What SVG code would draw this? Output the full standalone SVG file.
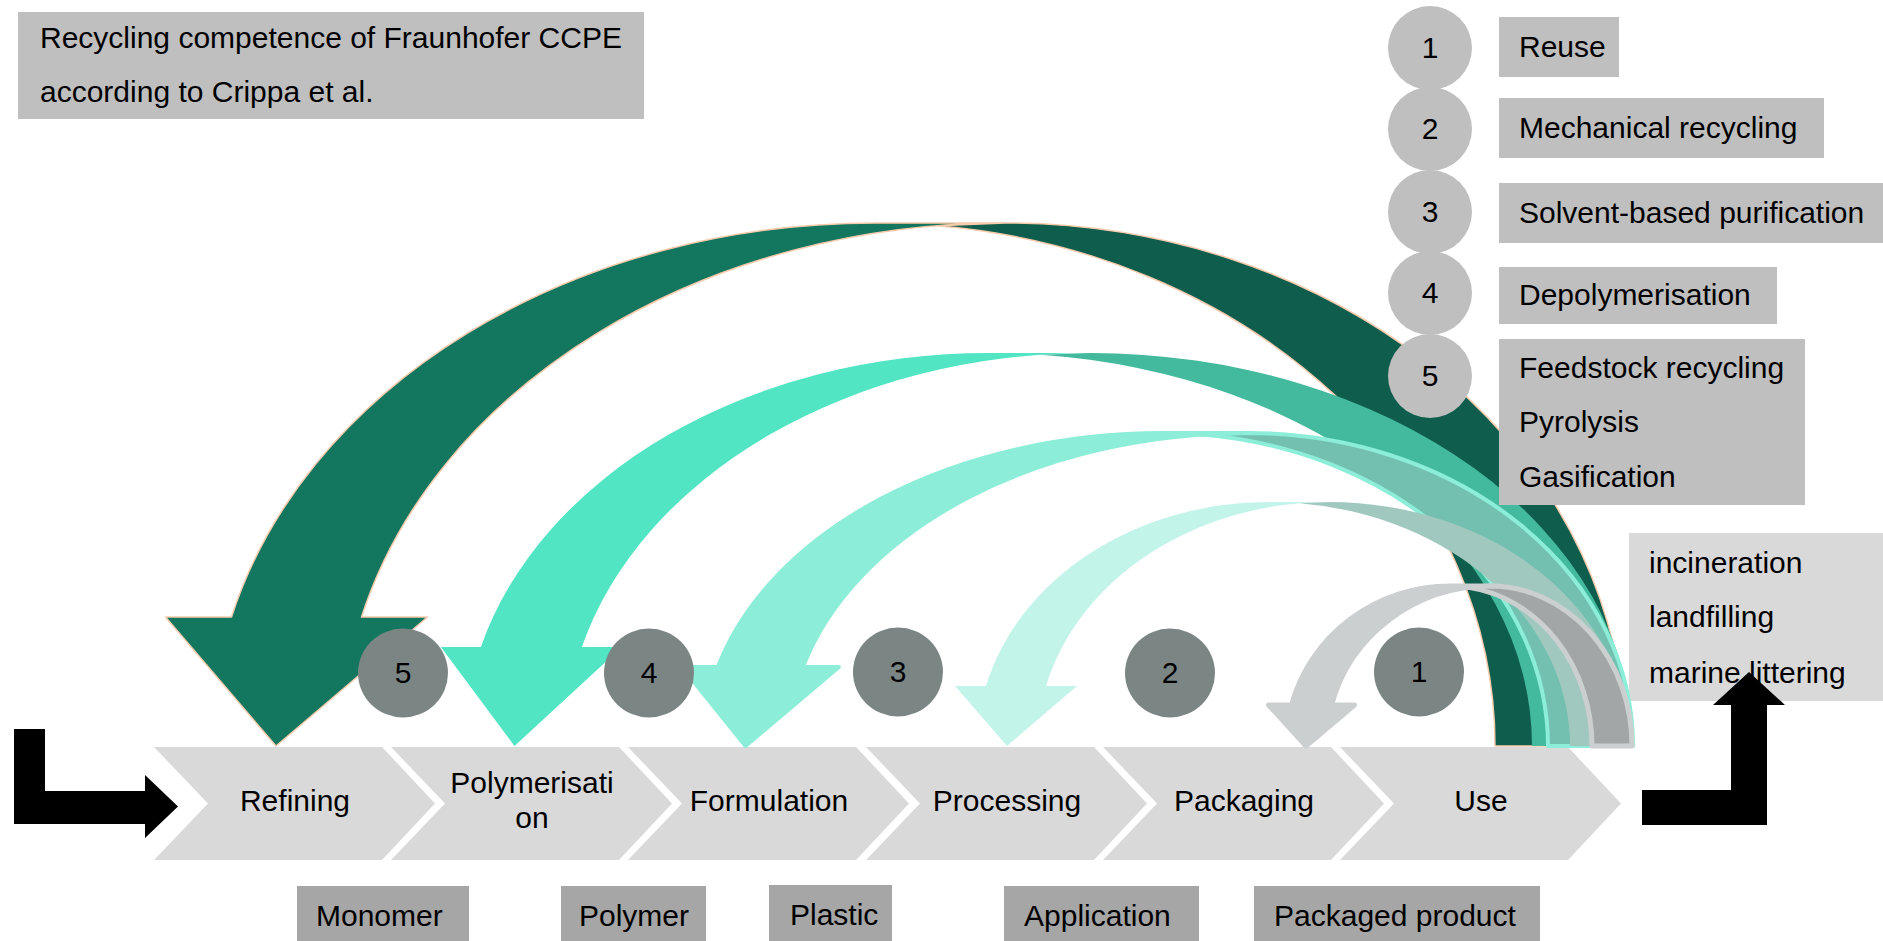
<svg xmlns="http://www.w3.org/2000/svg" width="1883" height="941" viewBox="0 0 1883 941">
<style>
text{font-family:"Liberation Sans",Arial,sans-serif;font-size:30px;fill:#000}
.c{text-anchor:middle}
.chev{fill:#d9d9d9}
.lg{fill:#bfbfbf}
.bot{fill:#a6a6a6}
.num{fill:#7b8684}
.blk{fill:#000}
</style>
<rect width="1883" height="941" fill="#fff"/>

<g id="title">
<rect class="lg" x="18" y="12" width="626" height="107"/>
<text x="40" y="48">Recycling competence of Fraunhofer CCPE</text>
<text x="40" y="102">according to Crippa et al.</text>
</g>

<g id="chevrons">
<g id="refining"><path class="chev" d="M154,747H382L435,803.5L382,860H154L208,803.5Z"/><text class="c" x="295" y="811">Refining</text></g>
<g id="polymerisation"><path class="chev" d="M391,747H619L672,803.5L619,860H391L445,803.5Z"/><text class="c" x="532" y="793">Polymerisati</text><text class="c" x="532" y="828">on</text></g>
<g id="formulation"><path class="chev" d="M628,747H856L909,803.5L856,860H628L682,803.5Z"/><text class="c" x="769" y="811">Formulation</text></g>
<g id="processing"><path class="chev" d="M866,747H1094L1147,803.5L1094,860H866L920,803.5Z"/><text class="c" x="1007" y="811">Processing</text></g>
<g id="packaging"><path class="chev" d="M1103,747H1331L1384,803.5L1331,860H1103L1157,803.5Z"/><text class="c" x="1244" y="811">Packaging</text></g>
<g id="use"><path class="chev" d="M1340,747H1568L1621,803.5L1568,860H1340L1394,803.5Z"/><text class="c" x="1481" y="811">Use</text></g>
</g>

<g id="bottom-labels">
<g id="monomer"><rect class="bot" x="297" y="886" width="172" height="55"/><text x="316" y="926">Monomer</text></g>
<g id="polymer"><rect class="bot" x="561" y="886" width="145" height="55"/><text x="579" y="926">Polymer</text></g>
<g id="plastic"><rect class="bot" x="769" y="885" width="123" height="56"/><text x="790" y="925">Plastic</text></g>
<g id="application"><rect class="bot" x="1004" y="886" width="195" height="55"/><text x="1024" y="926">Application</text></g>
<g id="packaged"><rect class="bot" x="1254" y="886" width="286" height="55"/><text x="1274" y="926">Packaged product</text></g>
</g>

<g id="endoflife">
<rect x="1629" y="533" width="254" height="168" fill="#d9d9d9"/>
<text x="1649" y="573">incineration</text>
<text x="1649" y="627">landfilling</text>
<text x="1649" y="683">marine littering</text>
</g>

<g id="connectors">
<g id="arrow5" stroke="#f8cbad" stroke-width="1.5" stroke-linejoin="round">
<path fill="#13765f" d="M276,746L165.5,617L231.5,617A664,523 0 0 1 875,223L1005,223A664,523 0 0 0 361.5,617L427.5,617Z"/>
<path fill="#0f5e4d" d="M937.8,225.7L1005,223A620,523 0 0 1 1625,746L1495,746A620,523 0 0 0 937.8,225.7Z"/>
</g>
<g id="arrow4">
<path fill="#52e5c4" d="M514.5,746L440.9,647L480.9,647A525,393 0 0 1 989,353L1090,353A525,393 0 0 0 581.9,647L621.9,647Z"/>
<path fill="#43b99d" d="M1040.35,354.76L1090,353A543,393 0 0 1 1633,746L1532,746A543,393 0 0 0 1040.35,354.76Z"/>
</g>
<g id="arrow3" stroke="#8cedd8" stroke-width="4" stroke-linejoin="round">
<path fill="#8cedd8" d="M745.5,746L681.9,667L717.9,667A460,313 0 0 1 1163,433L1248,433A460,313 0 0 0 802.9,667L838.9,667Z"/>
<path fill="#73c0b0" d="M1201.7,434.6L1248,433A385,313 0 0 1 1633,746L1548,746A385,313 0 0 0 1201.7,434.6Z"/>
</g>
<g id="arrow2">
<path fill="#c3f4ea" d="M1007,746L955,686L986,686A292,244 0 0 1 1269,502L1329,502A292,244 0 0 0 1046,686L1077,686Z"/>
<path fill="#a0c8bf" d="M1299.5,503.25L1329,502A301,244 0 0 1 1630,746L1570,746A301,244 0 0 0 1299.5,503.25Z"/>
</g>
<g id="arrow1" stroke="#cbcfd0" stroke-width="5" stroke-linejoin="round">
<path fill="#cbcfd0" d="M1306,746L1268.5,705L1291.5,705A164,160 0 0 1 1450,586L1490,586A164,160 0 0 0 1331.5,705L1354.5,705Z"/>
<path fill="#a3a6a6" d="M1468.6,587.4L1490,586A142,160 0 0 1 1632,746L1592,746A142,160 0 0 0 1468.6,587.4Z"/>
</g>
<path id="in-arrow" class="blk" d="M14,729H45V791H145V775L178,806.5L145,838V824H14Z"/>
<path id="out-arrow" class="blk" d="M1642,790H1731V705H1713L1749,672L1785,705H1767V825H1642Z"/>
</g>

<g id="steps">
<g id="step5"><ellipse class="num" cx="403" cy="673" rx="45" ry="44.5"/><text class="c" x="403" y="683">5</text></g>
<g id="step4"><ellipse class="num" cx="649" cy="673" rx="45" ry="44.5"/><text class="c" x="649" y="683">4</text></g>
<g id="step3"><ellipse class="num" cx="898" cy="672" rx="45" ry="44.5"/><text class="c" x="898" y="682">3</text></g>
<g id="step2"><ellipse class="num" cx="1170" cy="673" rx="45" ry="44.5"/><text class="c" x="1170" y="683">2</text></g>
<g id="step1"><ellipse class="num" cx="1419" cy="672" rx="45" ry="44.5"/><text class="c" x="1419" y="682">1</text></g>
</g>

<g id="legend">
<g id="leg1"><circle class="lg" cx="1430" cy="48" r="42"/><text class="c" x="1430" y="58">1</text><rect class="lg" x="1499" y="17" width="120" height="60"/><text x="1519" y="57">Reuse</text></g>
<g id="leg2"><circle class="lg" cx="1430" cy="129" r="42"/><text class="c" x="1430" y="139">2</text><rect class="lg" x="1499" y="98" width="325" height="60"/><text x="1519" y="138">Mechanical recycling</text></g>
<g id="leg3"><circle class="lg" cx="1430" cy="212" r="42"/><text class="c" x="1430" y="222">3</text><rect class="lg" x="1499" y="183" width="384" height="60"/><text x="1519" y="223">Solvent-based purification</text></g>
<g id="leg4"><circle class="lg" cx="1430" cy="293" r="42"/><text class="c" x="1430" y="303">4</text><rect class="lg" x="1499" y="267" width="278" height="57"/><text x="1519" y="305">Depolymerisation</text></g>
<g id="leg5"><circle class="lg" cx="1430" cy="376" r="42"/><text class="c" x="1430" y="386">5</text><rect class="lg" x="1499" y="339" width="306" height="166"/><text x="1519" y="378">Feedstock recycling</text><text x="1519" y="432">Pyrolysis</text><text x="1519" y="487">Gasification</text></g>
</g>
</svg>
